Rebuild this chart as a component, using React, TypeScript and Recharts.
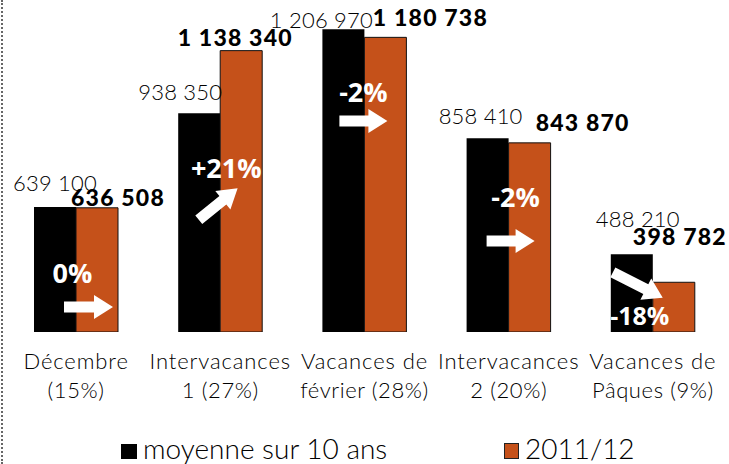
import React from "react";
import { BarChart, Bar, XAxis, YAxis, Legend, LabelList } from "recharts";

const categoriesLine1 = ["Décembre", "Intervacances", "Vacances de", "Intervacances", "Vacances de"];
const categoriesLine2 = ["(15%)", "1 (27%)", "février (28%)", "2 (20%)", "Pâques (9%)"];
const average10y = [639100, 938350, 1206970, 858410, 488210];
const season2011 = [636508, 1138340, 1180738, 843870, 398782];
const changeLabels = ["0%", "+21%", "-2%", "-2%", "-18%"];
const arrowAngles = [0, -39, 0, 0, 27];
const seriesNames = ["moyenne sur 10 ans", "2011/12"];

const fmt = (v: number) => {
  const s = String(Math.round(v));
  return s.replace(/\B(?=(\d{3})+(?!\d))/g, " ");
};

const data = categoriesLine1.map((c, i) => ({
  cat: c,
  line2: categoriesLine2[i],
  avg: average10y[i],
  cur: season2011[i],
}));

// label placement offsets (layout)
const blackLbl = [
  { dx: 0, dy: 16 },
  { dx: -19, dy: 13 },
  { dx: -22, dy: 1 },
  { dx: -7, dy: 14 },
  { dx: 6, dy: 27 },
];
const orangeLbl = [
  { dx: 21, dy: 2 },
  { dx: -6, dy: 5 },
  { dx: 45, dy: 11 },
  { dx: 53, dy: 12 },
  { dx: 6, dy: 37 },
];
const pctPos = [
  { tx: -3.5, ty: -49, ax: 12.5, ay: -25, len: 49 },
  { tx: 6, ty: -154, ax: -2, ay: -128, len: 50 },
  { tx: -1, ty: -230, ax: -1, ay: -211, len: 48 },
  { tx: 7, ty: -125, ax: 2, ay: -91, len: 48 },
  { tx: -13, ty: -7, ax: -15, ay: -47, len: 56 },
];

const LIGHT = "Lato, 'Open Sans', sans-serif";
const ORANGE = "#C5511A";

const BlackLabel = (p: any) => {
  const { x, y, width, index, value } = p;
  const o = blackLbl[index];
  return (
    <text x={x + width / 2 + o.dx} y={y - o.dy} textAnchor="middle" fontFamily={LIGHT} fontWeight={300} fontSize={22} letterSpacing={0.2} fill="#000">
      {fmt(value)}
    </text>
  );
};

const OrangeLabel = (p: any) => {
  const { x, y, width, index, value } = p;
  const o = orangeLbl[index];
  return (
    <text x={x + width / 2 + o.dx} y={y - o.dy} textAnchor="middle" fontFamily={LIGHT} fontWeight={900} fontSize={23} letterSpacing={1.2} fill="#000">
      {fmt(value)}
    </text>
  );
};

const ChangeMark = (p: any) => {
  const { x, y, height, index } = p;
  const base = y + height;
  const o = pctPos[index];
  const L = o.len;
  const t = 5.5;
  const hw = 12;
  const hl = 19;
  const pts = [
    [-L / 2, -t],
    [L / 2 - hl, -t],
    [L / 2 - hl, -hw],
    [L / 2, 0],
    [L / 2 - hl, hw],
    [L / 2 - hl, t],
    [-L / 2, t],
  ]
    .map((q) => q.join(","))
    .join(" ");
  return (
    <g>
      <text x={x + o.tx} y={base + o.ty} textAnchor="middle" fontFamily="'Open Sans', sans-serif" fontWeight={700} fontSize={index === 4 ? 25 : 27} fill="#fff">
        {changeLabels[index]}
      </text>
      <polygon points={pts} fill="#fff" transform={`translate(${x + o.ax},${base + o.ay}) rotate(${arrowAngles[index]})`} />
    </g>
  );
};

const CatTick = (p: any) => {
  const { x, y, payload, index } = p;
  const i = index ?? categoriesLine1.indexOf(payload.value);
  return (
    <g>
      <text x={x} y={y + 29} textAnchor="middle" fontFamily={LIGHT} fontWeight={300} fontSize={22} letterSpacing={0.9} fill="#000">
        {categoriesLine1[i]}
      </text>
      <text x={x} y={y + 58} textAnchor="middle" fontFamily={LIGHT} fontWeight={300} fontSize={22} letterSpacing={0.6} fill="#000">
        {categoriesLine2[i]}
      </text>
    </g>
  );
};

const LegendContent = () => (
  <div style={{ position: "relative", width: 729, height: 44 }}>
    <div style={{ position: "absolute", left: 121, top: 24, width: 16, height: 15, background: "#000" }} />
    <div style={{ position: "absolute", left: 143, top: 14, fontFamily: LIGHT, fontWeight: 300, fontSize: 28, lineHeight: "28px", color: "#000", whiteSpace: "nowrap" }}>
      {seriesNames[0]}
    </div>
    <div style={{ position: "absolute", left: 504, top: 23, width: 15, height: 16, background: ORANGE, border: "1px solid #222", boxSizing: "border-box" }} />
    <div style={{ position: "absolute", left: 525, top: 14, fontFamily: LIGHT, fontWeight: 300, fontSize: 28, lineHeight: "28px", color: "#000", whiteSpace: "nowrap" }}>
      {seriesNames[1]}
    </div>
  </div>
);

export default function App() {
  return (
    <div style={{ position: "absolute", left: 0, top: 0, width: 729, height: 464, background: "#fff", overflow: "hidden" }}>
      <div style={{ position: "absolute", left: 1, top: 0, height: 464, borderLeft: "2px dotted #666" }} />
      <BarChart
        width={729}
        height={464}
        data={data}
        margin={{ top: 0, right: 4, left: 4, bottom: 0 }}
        barGap={0}
        barCategoryGap={30}
      >
        <YAxis hide domain={[240000, 1300000]} allowDataOverflow />
        <XAxis dataKey="cat" axisLine={false} tickLine={false} height={88} interval={0} tick={<CatTick />} />
        <Legend verticalAlign="bottom" height={44} content={<LegendContent />} wrapperStyle={{ left: 0, bottom: 0, width: 729 }} />
        <Bar dataKey="avg" fill="#000" isAnimationActive={false}>
          <LabelList dataKey="avg" content={<BlackLabel />} />
        </Bar>
        <Bar dataKey="cur" fill={ORANGE} stroke="#111" strokeWidth={1} isAnimationActive={false}>
          <LabelList dataKey="cur" content={<OrangeLabel />} />
          <LabelList dataKey="cur" content={<ChangeMark />} />
        </Bar>
      </BarChart>
    </div>
  );
}
